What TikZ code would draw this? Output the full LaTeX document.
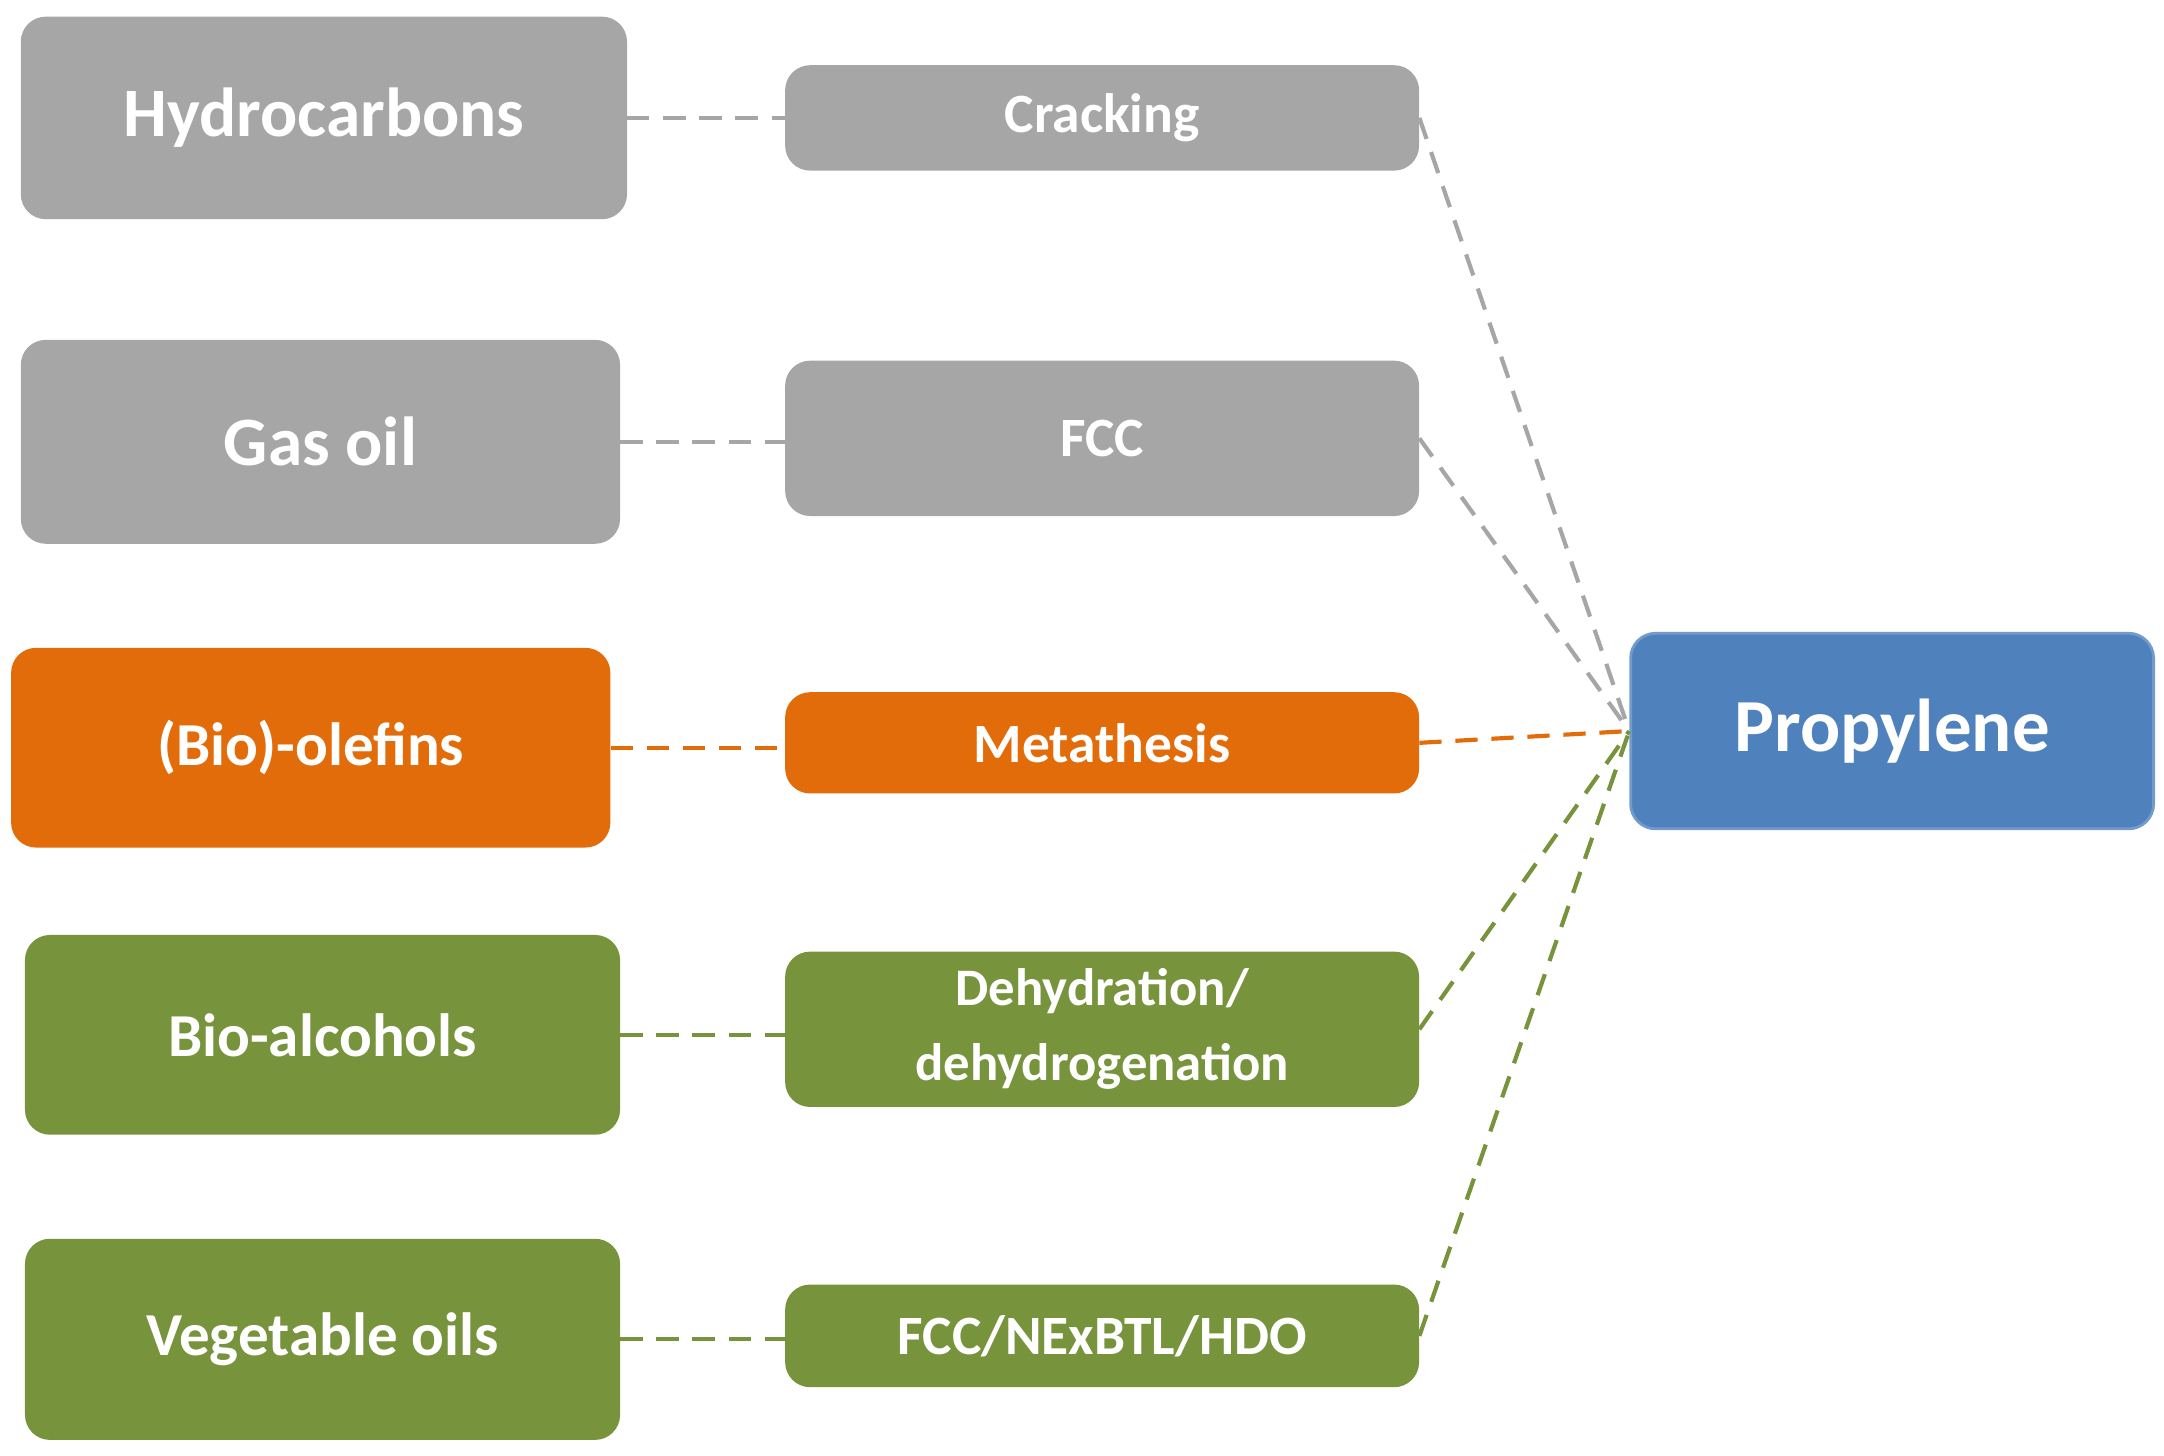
\documentclass[tikz,border=0pt]{standalone}
\usepackage{fontspec}
\setmainfont{Carlito}
\usetikzlibrary{arrows.meta}
\definecolor{cgray}{HTML}{A6A6A6}
\definecolor{corange}{HTML}{E36C0A}
\definecolor{cgreen}{HTML}{77933C}
\definecolor{cblue}{HTML}{4F81BD}
\begin{document}
\begin{tikzpicture}[x=1pt,y=-1pt,
 bx/.style={rounded corners=18pt,text=white,font=\bfseries,align=center,inner sep=0pt},
 conn/.style={line width=3pt,dash pattern=on 16pt off 10pt},
 big/.style={font=\fontsize{50}{56}\selectfont\bfseries},
 small/.style={font=\fontsize{40}{48}\selectfont\bfseries}]
\useasboundingbox (0,0) rectangle (1560,1049);
\newcommand{\bxx}[7]{\node[bx,#6,fill=#7,minimum width=#3-#1,minimum height=#4-#2] (#5) at ({(#1+#3)/2},{(#2+#4)/2}) {};}
\bxx{15}{12}{452}{158}{hc}{}{cgray}
\bxx{566}{47}{1023}{123}{cr}{}{cgray}
\bxx{15}{245}{447}{392}{go}{}{cgray}
\bxx{566}{260}{1023}{372}{fcc}{}{cgray}
\bxx{8}{467}{440}{611}{ol}{}{corange}
\bxx{566}{499}{1023}{572}{me}{}{corange}
\bxx{18}{674}{447}{818}{ba}{}{cgreen}
\bxx{566}{686}{1023}{798}{de}{}{cgreen}
\bxx{18}{893}{447}{1038}{vo}{}{cgreen}
\bxx{566}{926}{1023}{1000}{nx}{}{cgreen}
\node[bx,fill=cblue,draw=cblue!80!white,line width=2pt,minimum width=377,minimum height=141] (pr) at (1364,527) {};
\node[big,text=white] at (hc) {Hydrocarbons};
\node[big,text=white] at (go) {Gas oil};
\node[small,text=white,font=\fontsize{44}{50}\selectfont\bfseries] at (ol) {(Bio)-olefins};
\node[small,text=white,font=\fontsize{44}{50}\selectfont\bfseries] at (ba) {Bio-alcohols};
\node[small,text=white,font=\fontsize{44}{50}\selectfont\bfseries] at (vo) {Vegetable oils};
\node[small,text=white] at (cr) {Cracking};
\node[small,text=white] at (fcc) {FCC};
\node[small,text=white] at (me) {Metathesis};
\node[small,text=white,font=\fontsize{38}{54}\selectfont\bfseries,align=center] at (de) {Dehydration/\\dehydrogenation};
\node[small,text=white] at (nx) {FCC/NExBTL/HDO};
\node[big,text=white,font=\fontsize{54}{60}\selectfont\bfseries] at (pr) {Propylene};
\draw[conn,cgray] (hc.east) -- (cr.west);
\draw[conn,cgray] (go.east) -- (go.east -| fcc.west);
\draw[conn,corange] (ol.east) -- (ol.east -| me.west);
\draw[conn,cgreen] (ba.east) -- (ba.east -| de.west);
\draw[conn,cgreen] (vo.east) -- (vo.east -| nx.west);
\draw[conn,cgray] (cr.east) -- (pr.west);
\draw[conn,cgray] (fcc.east) -- (pr.west);
\draw[conn,corange] (me.east) -- (pr.west);
\draw[conn,cgreen] (de.east) -- (pr.west);
\draw[conn,cgreen] (nx.east) -- (pr.west);
\end{tikzpicture}
\end{document}
